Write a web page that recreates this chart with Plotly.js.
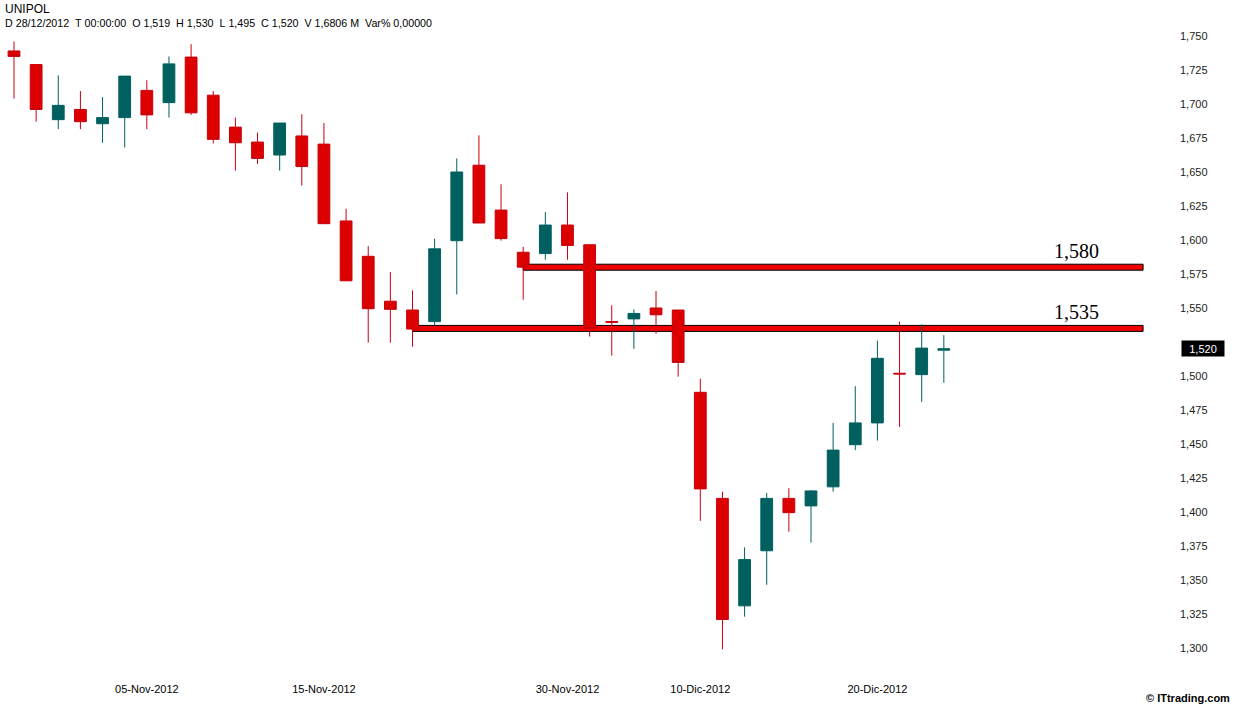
<!DOCTYPE html>
<html>
<head>
<meta charset="utf-8">
<script src="https://cdn.plot.ly/plotly-3.0.1.min.js"></script>
<style>
  html, body { margin: 0; padding: 0; background: #ffffff; }
  #chart { width: 1234px; height: 707px; }
</style>
</head>
<body>
<div id="chart"></div>
<script>
// ---- data ----
const symbol = "UNIPOL";
const dates = [
  "2012-10-26","2012-10-29","2012-10-30","2012-10-31","2012-11-01","2012-11-02",
  "2012-11-05","2012-11-06","2012-11-07","2012-11-08","2012-11-09",
  "2012-11-12","2012-11-13","2012-11-14","2012-11-15","2012-11-16",
  "2012-11-19","2012-11-20","2012-11-21","2012-11-22","2012-11-23",
  "2012-11-26","2012-11-27","2012-11-28","2012-11-29","2012-11-30",
  "2012-12-03","2012-12-04","2012-12-05","2012-12-06","2012-12-07",
  "2012-12-10","2012-12-11","2012-12-12","2012-12-13","2012-12-14",
  "2012-12-17","2012-12-18","2012-12-19","2012-12-20","2012-12-21",
  "2012-12-27","2012-12-28"
];
const openP = [
  1.739,1.729,1.6885,1.696,1.6855,1.690,
  1.710,1.701,1.7345,1.7065,1.683,
  1.672,1.6625,1.6765,1.6705,1.614,
  1.588,1.555,1.5485,1.540,1.5995,
  1.655,1.622,1.591,1.590,1.611,
  1.5965,1.540,1.542,1.550,1.5485,
  1.488,1.410,1.331,1.3715,1.410,
  1.4045,1.4185,1.4495,1.4655,1.502,
  1.501,1.519
];
const highP = [
  1.746,1.729,1.721,1.7095,1.705,1.7205,
  1.7175,1.735,1.744,1.7095,1.690,
  1.679,1.686,1.6925,1.686,1.623,
  1.5955,1.5765,1.563,1.601,1.660,
  1.677,1.641,1.595,1.6205,1.635,
  1.5965,1.552,1.549,1.5625,1.5485,
  1.498,1.415,1.374,1.414,1.4175,
  1.416,1.4655,1.4925,1.526,1.540,
  1.538,1.530
];
const lowP = [
  1.704,1.687,1.6815,1.6815,1.6715,1.668,
  1.6815,1.690,1.692,1.671,1.651,
  1.656,1.651,1.640,1.612,1.570,
  1.5245,1.5245,1.5215,1.537,1.560,
  1.6125,1.5995,1.556,1.5855,1.5855,
  1.529,1.515,1.520,1.531,1.4995,
  1.3935,1.299,1.323,1.3465,1.3855,
  1.3775,1.415,1.4455,1.4525,1.4625,
  1.481,1.495
];
const closeP = [
  1.735,1.696,1.699,1.687,1.690,1.7205,
  1.692,1.7295,1.6935,1.674,1.6715,
  1.660,1.686,1.654,1.612,1.570,
  1.5495,1.549,1.5345,1.5935,1.650,
  1.6125,1.601,1.580,1.611,1.596,
  1.535,1.5395,1.546,1.545,1.510,
  1.417,1.321,1.365,1.410,1.3995,
  1.4155,1.4455,1.4655,1.513,1.5015,
  1.5205,1.520
];
const tickDates  = ["2012-11-05","2012-11-15","2012-11-30","2012-12-10","2012-12-20"];
const tickLabels = ["05-Nov-2012","15-Nov-2012","30-Nov-2012","10-Dic-2012","20-Dic-2012"];
const priceTicks = [1.300,1.325,1.350,1.375,1.400,1.425,1.450,1.475,1.500,
                    1.550,1.575,1.600,1.625,1.650,1.675,1.700,1.725,1.750];
const levelValues = [1.580, 1.535];
const levelLabels = ["1,580", "1,535"];
const levelStartDates = ["2012-11-28", "2012-11-21"];
const volumeText = "1,6806 M";
const varText = "0,00000";

// ---- helpers ----
const fmt = v => v.toFixed(3).replace(".", ",");
const n = dates.length;
const last = n - 1;
const nb = "\u00A0";

const RED = "#DD0000", RED_LINE = "#C8000C", TEAL = "#006060";

const trace = {
  type: "candlestick",
  x: dates, open: openP, high: highP, low: lowP, close: closeP,
  increasing: { line: { color: TEAL, width: 1 }, fillcolor: TEAL },
  decreasing: { line: { color: RED_LINE, width: 1 }, fillcolor: RED },
  whiskerwidth: 0,
  showlegend: false,
  hoverinfo: "none"
};

const shapes = levelValues.map((v, i) => ({
  type: "rect", layer: "below", xref: "x", yref: "y",
  x0: dates.indexOf(levelStartDates[i]), x1: 51.0,
  y0: v - 0.0022, y1: v + 0.0022,
  fillcolor: "#F00000", line: { color: "#000000", width: 1 }
}));

const annotations = [
  { xref: "paper", yref: "paper", x: 0, y: 1, xanchor: "left", yanchor: "top",
    xshift: 3, yshift: 0, showarrow: false, text: symbol,
    font: { family: "Liberation Sans, Arial, sans-serif", size: 12, color: "#000" } },
  { xref: "paper", yref: "paper", x: 0, y: 1, xanchor: "left", yanchor: "top",
    xshift: 3, yshift: -15, showarrow: false,
    text: "D" + nb + "28/12/2012" + nb + nb + "T" + nb + "00:00:00" + nb + nb +
          "O" + nb + fmt(openP[last]) + nb + nb + "H" + nb + fmt(highP[last]) + nb + nb +
          "L" + nb + fmt(lowP[last]) + nb + nb + "C" + nb + fmt(closeP[last]) + nb + nb +
          "V" + nb + volumeText.replace(" ", nb) + nb + nb + "Var%" + nb + varText,
    font: { family: "Liberation Sans, Arial, sans-serif", size: 10.7, color: "#000" } },
  { xref: "paper", yref: "y", x: 1181 / 1165, y: closeP[last], xanchor: "left", yanchor: "middle",
    showarrow: false, text: fmt(closeP[last]), bgcolor: "#000000", borderpad: 1,
    width: 40, height: 13, align: "center",
    font: { family: "Liberation Sans, Arial, sans-serif", size: 11, color: "#ffffff" } },
  { xref: "paper", yref: "paper", x: 1232 / 1165, y: -23 / 675, xanchor: "right", yanchor: "middle",
    showarrow: false, text: "<b>\u00A9" + nb + "ITtrading.com</b>",
    font: { family: "Liberation Sans, Arial, sans-serif", size: 11, color: "#000" } }
];
levelValues.forEach((v, i) => {
  annotations.push({
    xref: "x", yref: "y", x: 48.0, y: v, xanchor: "center", yanchor: "middle",
    yshift: 16, showarrow: false, text: levelLabels[i],
    font: { family: "Liberation Serif, Times New Roman, serif", size: 20, color: "#000" }
  });
});

const layout = {
  width: 1234, height: 707,
  margin: { l: 0, r: 69, t: 0, b: 32, pad: 0 },
  paper_bgcolor: "#ffffff", plot_bgcolor: "#ffffff",
  separators: ",.",
  boxgap: 0.24,
  showlegend: false,
  xaxis: {
    type: "category", range: [-0.632, 51.99],
    rangeslider: { visible: false },
    showgrid: false, zeroline: false, showline: false, ticks: "",
    tickmode: "array", tickvals: tickDates, ticktext: tickLabels,
    ticklabelstandoff: 6,
    tickfont: { family: "Liberation Sans Narrow, Arial Narrow, Liberation Sans, sans-serif", size: 11, color: "#000" },
    fixedrange: true
  },
  yaxis: {
    side: "right", range: [1.28015, 1.77647],
    showgrid: false, zeroline: false, showline: false, ticks: "",
    tickmode: "array", tickvals: priceTicks, tickformat: ".3f",
    ticklabelstandoff: 14,
    tickfont: { family: "Liberation Sans, Arial, sans-serif", size: 11, color: "#222" },
    fixedrange: true
  },
  shapes: shapes,
  annotations: annotations
};

Plotly.newPlot("chart", [trace], layout, { displayModeBar: false, staticPlot: true });
</script>
</body>
</html>
